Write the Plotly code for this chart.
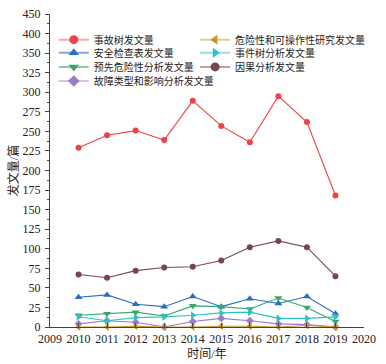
import plotly.graph_objects as go

# ---- data ----
years = [2010, 2011, 2012, 2013, 2014, 2015, 2016, 2017, 2018, 2019]
fta = [229, 245, 251, 239, 289, 257, 236, 295, 262, 168]          # 事故树发文量
checklist = [38, 41, 29, 26, 39, 26, 36, 30, 39, 17]               # 安全检查表发文量
pha = [15, 17, 19, 14, 27, 26, 23, 37, 25, 7]                      # 预先危险性分析发文量
fmea = [4, 8, 6, 0, 7, 11, 8, 4, 3, 0]                             # 故障类型和影响分析发文量
hazop = [0, 0, 1, 0, 0, 1, 1, 0, 2, 0]                             # 危险性和可操作性研究发文量
eta = [13, 8, 12, 13, 15, 18, 19, 11, 11, 13]                      # 事件树分析发文量
cca = [67, 63, 72, 76, 77, 85, 102, 110, 102, 65]                  # 因果分析发文量

names = {
    "fta": "事故树发文量",
    "checklist": "安全检查表发文量",
    "pha": "预先危险性分析发文量",
    "fmea": "故障类型和影响分析发文量",
    "hazop": "危险性和可操作性研究发文量",
    "eta": "事件树分析发文量",
    "cca": "因果分析发文量",
}
series = {"fta": fta, "checklist": checklist, "pha": pha, "fmea": fmea,
          "hazop": hazop, "eta": eta, "cca": cca}

y_tick_vals = [0, 25, 50, 75, 100, 125, 150, 175, 200, 225, 250, 275, 300, 325, 350, 375, 400]
y_tick_text = ["0", "25", "50", "75", "100", "125", "150", "175", "200", "225",
               "250", "275", "300", "325", "350", "400", "450"]

# ---- styles ----
colors = {"fta": "#EC4349", "checklist": "#2B6CC4", "pha": "#35A86B", "fmea": "#9C7BC6",
          "hazop": "#C9952F", "eta": "#2EC2BE", "cca": "#76464F"}
faded = {"fta": "rgba(236,67,73,0.45)", "checklist": "rgba(43,108,196,0.6)",
         "pha": "rgba(53,168,107,0.6)", "fmea": "rgba(156,123,198,0.45)",
         "hazop": "rgba(201,149,47,0.5)", "eta": "rgba(46,194,190,0.5)",
         "cca": "rgba(118,70,79,0.5)"}
symbols = {"fta": "circle", "checklist": "triangle-up", "pha": "triangle-down",
           "fmea": "diamond", "hazop": "triangle-left", "eta": "triangle-right",
           "cca": "circle"}
msize = {"fta": 6, "checklist": 7, "pha": 7, "fmea": 6, "hazop": 7, "eta": 7, "cca": 6}

draw_order = ["fta", "checklist", "pha", "fmea", "hazop", "eta", "cca"]

# legend layout: two columns, four rows (one single-item legend per entry)
legend_cells = {"fta": (0, 0), "hazop": (1, 0), "checklist": (0, 1), "eta": (1, 1),
                "pha": (0, 2), "cca": (1, 2), "fmea": (0, 3)}
col_x = [0.012, 0.462]
row_y = [0.918, 0.876, 0.831, 0.786]

FONT = "Liberation Serif, Noto Sans CJK SC, serif"

fig = go.Figure()
for k in draw_order:
    fig.add_trace(go.Scatter(
        x=years, y=series[k], mode="lines+markers", name=names[k],
        line=dict(color=colors[k], width=1.1),
        marker=dict(symbol=symbols[k], size=msize[k], color=colors[k]),
        showlegend=False, cliponaxis=False, legendgroup=k))

legend_layouts = {}
for i, k in enumerate(["fta", "hazop", "checklist", "eta", "pha", "cca", "fmea"]):
    lname = "legend" if i == 0 else f"legend{i + 1}"
    c, r = legend_cells[k]
    fig.add_trace(go.Scatter(
        x=[None], y=[None], mode="lines+markers", name=names[k],
        line=dict(color=faded[k], width=2),
        marker=dict(symbol=symbols[k], size=9, color=colors[k]),
        showlegend=True, legendgroup=k, legend=lname))
    legend_layouts[lname] = dict(
        x=col_x[c], xanchor="left", y=row_y[r], yanchor="middle",
        bgcolor="rgba(0,0,0,0)", borderwidth=0,
        font=dict(family=FONT, size=10, color="#222"),
        itemclick=False, itemdoubleclick=False)

fig.update_layout(
    width=386, height=364,
    margin=dict(l=50, r=22, t=14, b=37, autoexpand=False),
    paper_bgcolor="white", plot_bgcolor="white",
    font=dict(family=FONT, size=12, color="#222"),
    showlegend=True,
    xaxis=dict(
        range=[2009, 2020], tickmode="linear", tick0=2009, dtick=1,
        showline=True, linecolor="#444", linewidth=1, mirror=False,
        ticks="inside", ticklen=4, tickcolor="#444", tickangle=0,
        ticklabelstandoff=1,
        showgrid=False, zeroline=False,
        tickfont=dict(family=FONT, size=12, color="#222"),
        title=dict(text="时间/年", font=dict(family=FONT, size=12, color="#222"), standoff=4),
    ),
    yaxis=dict(
        range=[0, 400], tickmode="array", tickvals=y_tick_vals, ticktext=y_tick_text,
        showline=True, linecolor="#444", linewidth=1,
        ticks="outside", ticklen=4, tickcolor="#444",
        ticklabelstandoff=2,
        minor=dict(tickmode="linear", tick0=0, dtick=12.5, ticks="outside",
                   ticklen=2, tickcolor="#444"),
        showgrid=False, zeroline=False,
        tickfont=dict(family=FONT, size=12, color="#222"),
        title=dict(text="发文量/篇", font=dict(family=FONT, size=12, color="#222"), standoff=1),
    ),
    **legend_layouts,
)

fig.write_html("out.html", config={"displayModeBar": False},
               post_script="document.body.style.margin='0px';")
